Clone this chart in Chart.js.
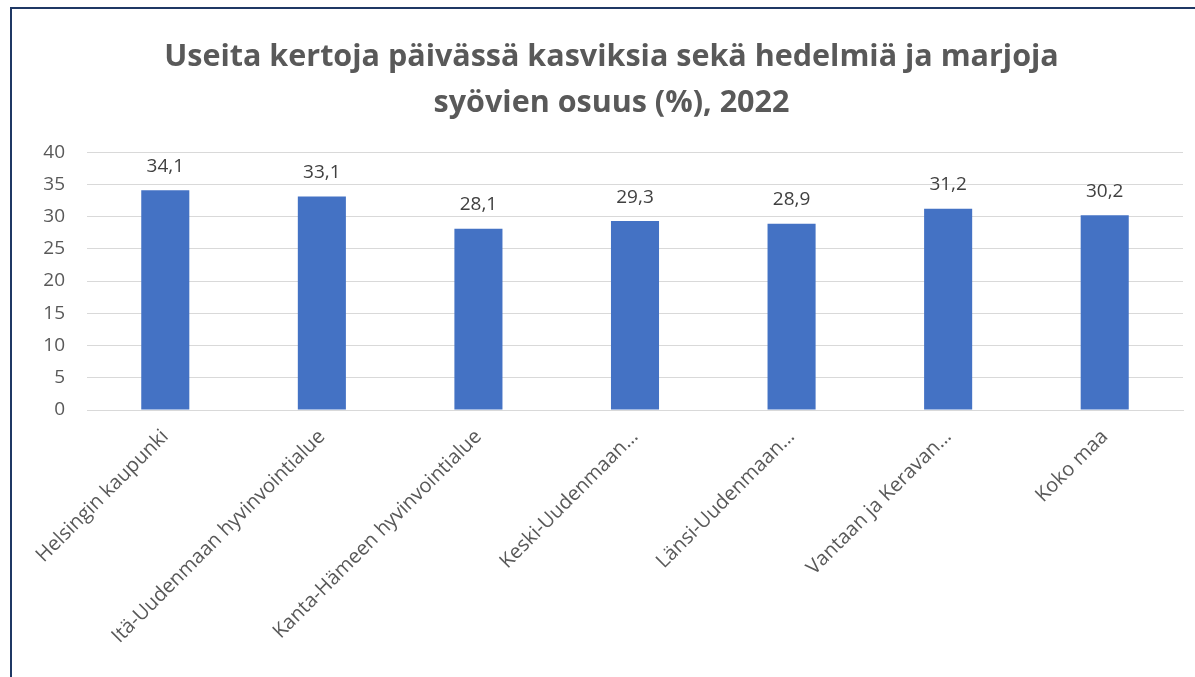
<!DOCTYPE html>
<html>
<head>
<meta charset="utf-8">
<script src="https://cdn.jsdelivr.net/npm/chart.js@4"></script>
<style>
  html, body { margin: 0; padding: 0; background: #fff; overflow: hidden; }
  #frame {
    position: absolute; left: 10px; top: 7px;
    width: 1195px; height: 680px;
    border-left: 2px solid #1F3864; border-top: 2px solid #1F3864;
  }
  #chart { display: block; }
</style>
</head>
<body>
<div id="frame"><canvas id="chart" width="1183" height="668"></canvas></div>
<script>
// Regions and shares (%)
const regions = [
    'Helsingin kaupunki',
    'Itä-Uudenmaan hyvinvointialue',
    'Kanta-Hämeen hyvinvointialue',
    'Keski-Uudenmaan…',
    'Länsi-Uudenmaan…',
    'Vantaan ja Keravan…',
    'Koko maa'
];
const shares = [34.1, 33.1, 28.1, 29.3, 28.9, 31.2, 30.2];
const titleLines = [
    'Useita kertoja päivässä kasviksia sekä hedelmiä ja marjoja',
    'syövien osuus (%), 2022'
];

const FONT = "'Open Sans', 'Noto Sans', sans-serif";

// Value labels above each bar, Finnish decimal comma
const valueLabels = {
    id: 'valueLabels',
    afterDatasetsDraw(chart) {
        const ctx = chart.ctx;
        const meta = chart.getDatasetMeta(0);
        ctx.save();
        ctx.font = `19px ${FONT}`;
        ctx.fillStyle = '#404040';
        ctx.textAlign = 'center';
        ctx.textBaseline = 'middle';
        meta.data.forEach((bar, i) => {
            ctx.fillText(shares[i].toFixed(1).replace('.', ','), bar.x, bar.y - 24);
        });
        ctx.restore();
    }
};

new Chart(document.getElementById('chart'), {
    type: 'bar',
    data: {
        labels: regions,
        datasets: [{
            data: shares,
            backgroundColor: '#4472C4',
            categoryPercentage: 1,
            barPercentage: 0.307
        }]
    },
    options: {
        responsive: false,
        animation: false,
        layout: { padding: { left: 28, right: 12 } },
        plugins: {
            legend: { display: false },
            tooltip: { enabled: false },
            title: {
                display: true,
                text: titleLines,
                color: '#595959',
                font: { family: FONT, size: 30.5, weight: 'bold', lineHeight: 1.51 },
                padding: { top: 25, bottom: 26 }
            }
        },
        scales: {
            x: {
                afterFit(scale) { scale.height = 267; },
                grid: { display: false },
                border: { color: '#D9D9D9', width: 1 },
                ticks: {
                    color: '#595959',
                    font: { family: FONT, size: 20 },
                    maxRotation: 45,
                    minRotation: 45,
                    autoSkip: false,
                    padding: 7
                }
            },
            y: {
                min: 0,
                max: 40,
                afterFit(scale) { scale.width = 47; },
                grid: { color: '#D9D9D9', drawTicks: false },
                border: { display: false },
                ticks: {
                    stepSize: 5,
                    color: '#595959',
                    font: { family: FONT, size: 19 },
                    padding: 22
                }
            }
        }
    },
    plugins: [valueLabels]
});
</script>
</body>
</html>
